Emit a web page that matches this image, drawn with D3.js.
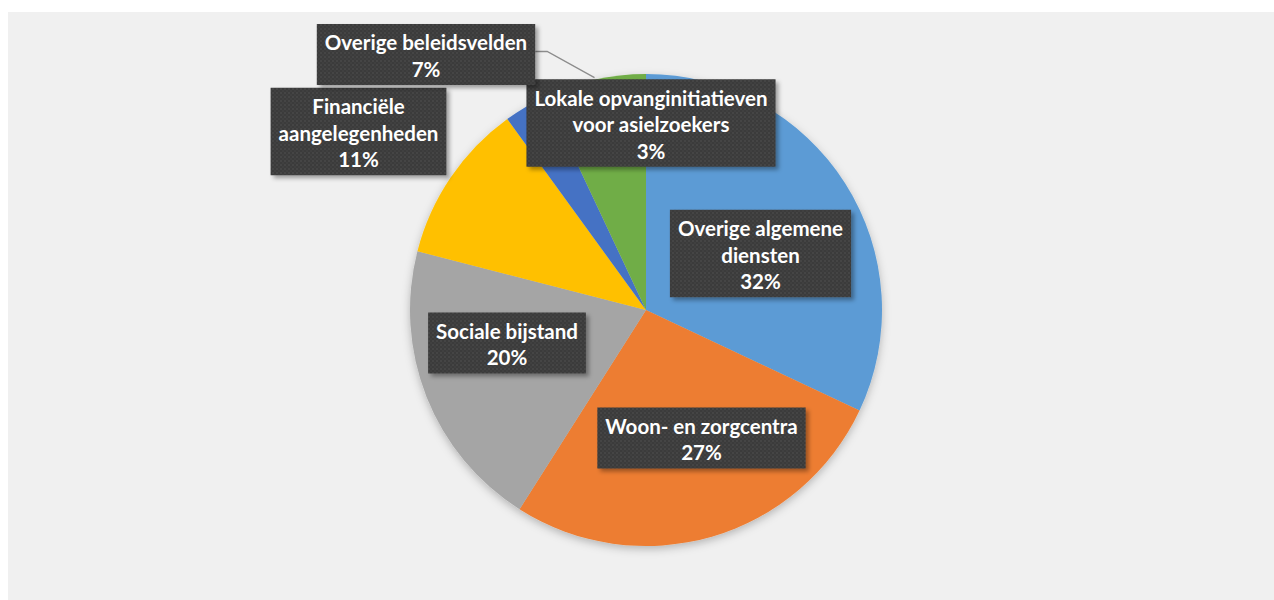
<!DOCTYPE html>
<html><head><meta charset="utf-8">
<script src="https://cdn.jsdelivr.net/npm/d3@7"></script>
<style>
html,body{margin:0;padding:0;background:#fff;}
svg{display:block;}
</style></head>
<body>
<svg id="chart" width="1274" height="600"></svg>
<script>
// ---- data ----
const categories = ["Overige algemene diensten","Woon- en zorgcentra","Sociale bijstand","Financiële aangelegenheden","Lokale opvanginitiatieven voor asielzoekers","Overige beleidsvelden"];
const values = [32, 27, 20, 11, 3, 7];
const labelLines = [
  ["Overige algemene","diensten","32%"],
  ["Woon- en zorgcentra","27%"],
  ["Sociale bijstand","20%"],
  ["Financiële","aangelegenheden","11%"],
  ["Lokale opvanginitiatieven","voor asielzoekers","3%"],
  ["Overige beleidsvelden","7%"]
];
const colors = ["#5b9bd5","#ed7d31","#a5a5a5","#ffc000","#4472c4","#70ad47"];
// ---- layout (label box centres) ----
const labelCenters = [[760.5,253.5],[701.5,438],[507,343],[358.5,131.5],[651,123],[426,54.5]];

const svg = d3.select("#chart");
const defs = svg.append("defs");
const sh = defs.append("filter").attr("id","pieShadow").attr("x","-20%").attr("y","-20%").attr("width","140%").attr("height","140%");
sh.append("feDropShadow").attr("dx",0).attr("dy",3).attr("stdDeviation",4).attr("flood-color","#000").attr("flood-opacity",0.25);
const bs = defs.append("filter").attr("id","boxShadow").attr("x","-20%").attr("y","-30%").attr("width","140%").attr("height","160%");
bs.append("feDropShadow").attr("dx",3).attr("dy",3).attr("stdDeviation",2).attr("flood-color","#000").attr("flood-opacity",0.35);
const pat = defs.append("pattern").attr("id","tex").attr("width",4).attr("height",4).attr("patternUnits","userSpaceOnUse");
pat.append("rect").attr("width",4).attr("height",4).attr("fill","#3a3a3a");
pat.append("rect").attr("x",0).attr("y",0).attr("width",2).attr("height",2).attr("fill","#444");
pat.append("rect").attr("x",2).attr("y",2).attr("width",2).attr("height",2).attr("fill","#414141");

svg.append("rect").attr("x",8).attr("y",12).attr("width",1266).attr("height",588).attr("fill","#f0f0f0");

const cx = 646, cy = 310, r = 236;
const pie = d3.pie().sort(null).value(d=>d);
const arcs = pie(values);
const arc = d3.arc().innerRadius(0).outerRadius(r);
const g = svg.append("g").attr("transform",`translate(${cx},${cy})`);
g.append("g").attr("filter","url(#pieShadow)")
  .selectAll("path").data(arcs).join("path")
  .attr("d",arc).attr("fill",(d,i)=>colors[i]);

const lineLayer = svg.append("g");
const lh = 26.5;
const boxes = [];
labelLines.forEach((lines,i)=>{
  const [x,y] = labelCenters[i];
  const lg = svg.append("g");
  const box = lg.append("rect").attr("fill","url(#tex)").attr("filter","url(#boxShadow)");
  const t = lg.append("text").attr("text-anchor","middle")
    .attr("font-family","Lato, 'Open Sans', sans-serif").attr("font-weight","bold")
    .attr("font-size",20.5).attr("fill","#fff");
  lines.forEach((s,k)=>{
    t.append("tspan").attr("x",x).attr("y",y+(k-(lines.length-1)/2)*lh+1)
      .attr("dominant-baseline","central").text(s);
  });
  const bb = t.node().getBBox();
  const w = bb.width + 16, h = lines.length*lh + 8;
  box.attr("x",x-w/2).attr("y",y-h/2).attr("width",w).attr("height",h);
  boxes.push({x:x-w/2,y:y-h/2,w,h});
});

// leader line for the last slice
const outer = d3.arc().innerRadius(r).outerRadius(r);
const p = outer.centroid(arcs[5]);
const b5 = boxes[5];
lineLayer.append("polyline")
  .attr("points",`${b5.x+b5.w},${b5.y+b5.h/2-3} ${b5.x+b5.w+12},${b5.y+b5.h/2-3} ${cx+p[0]},${cy+p[1]-2}`)
  .attr("fill","none").attr("stroke","#8c8c8c").attr("stroke-width",1.3);
</script>
</body></html>
